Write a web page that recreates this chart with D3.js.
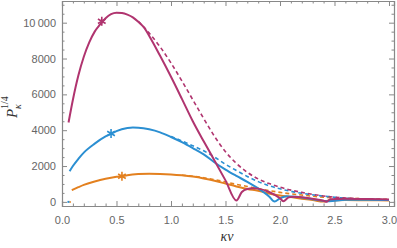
<!DOCTYPE html>
<html>
<head>
<meta charset="utf-8">
<script src="https://cdn.jsdelivr.net/npm/d3@7"></script>
<style>
  body { margin: 0; background: #fff; }
  .tick text { font-family: "Liberation Sans", Arial, sans-serif; font-size: 11px; fill: #666; }
</style>
</head>
<body>
<div class="chart"></div>
<script>
// kappa*nu sample points and P^(1/4) values
var magentaX = [0.06, 0.1, 0.15, 0.2, 0.25, 0.3, 0.35, 0.4, 0.45, 0.5, 0.55, 0.6, 0.65, 0.7, 0.75, 0.82, 0.9, 1.0, 1.1, 1.2, 1.3, 1.4, 1.5, 1.6, 1.65, 1.7, 1.75, 1.8, 1.9, 2.0, 2.03, 2.08, 2.12, 2.2, 2.3, 2.4, 2.43, 2.46, 2.6, 2.8, 3.0];
var magentaY = [4430, 5700, 7050, 8100, 8900, 9500, 9900, 10250, 10480, 10560, 10540, 10450, 10300, 10050, 9750, 9050, 8150, 6980, 5750, 4500, 3380, 2300, 1200, 80, 550, 720, 760, 740, 550, 200, 40, 250, 290, 260, 170, 60, 10, 150, 180, 160, 130];
var magentaDashX = [0.7, 0.8, 0.9, 1.0, 1.1, 1.2, 1.3, 1.4, 1.5, 1.6, 1.7, 1.8, 1.9, 2.0, 2.2, 2.4, 2.6, 2.8, 3.0];
var magentaDashY = [10080, 9420, 8650, 7750, 6750, 5700, 4650, 3650, 2800, 2150, 1650, 1280, 1020, 820, 530, 330, 220, 160, 120];

var blueX = [0.07, 0.1, 0.15, 0.2, 0.3, 0.4, 0.45, 0.5, 0.6, 0.65, 0.7, 0.8, 0.9, 1.0, 1.1, 1.2, 1.3, 1.4, 1.5, 1.6, 1.7, 1.8, 1.9, 1.95, 2.0, 2.06, 2.15, 2.3, 2.45, 2.6, 2.8, 3.0];
var blueY = [1710, 2000, 2400, 2750, 3250, 3650, 3800, 3950, 4120, 4150, 4140, 4050, 3880, 3620, 3330, 3000, 2650, 2200, 1800, 1450, 1120, 750, 300, 20, 200, 320, 280, 150, 40, 120, 120, 100];
var blueDashX = [1.0, 1.1, 1.2, 1.3, 1.4, 1.5, 1.6, 1.7, 1.8, 1.9, 2.0, 2.1, 2.2, 2.4, 2.6, 2.8, 3.0];
var blueDashY = [3650, 3400, 3130, 2850, 2500, 2100, 1750, 1420, 1130, 900, 730, 590, 480, 320, 210, 140, 100];

var orangeX = [0.09, 0.15, 0.2, 0.3, 0.4, 0.5, 0.55, 0.6, 0.7, 0.8, 0.9, 1.0, 1.1, 1.2, 1.3, 1.4, 1.5, 1.6, 1.7, 1.8, 1.9, 2.0, 2.1, 2.2, 2.3, 2.4, 2.45, 2.6, 2.8, 3.0];
var orangeY = [650, 820, 950, 1140, 1290, 1400, 1440, 1490, 1550, 1570, 1560, 1530, 1480, 1410, 1310, 1180, 1020, 860, 720, 620, 470, 360, 270, 180, 100, 20, 80, 100, 90, 80];
var orangeDashX = [1.1, 1.2, 1.3, 1.4, 1.5, 1.6, 1.7, 1.8, 1.9, 2.0, 2.2, 2.4, 2.6, 2.8, 3.0];
var orangeDashY = [1490, 1430, 1350, 1240, 1110, 980, 860, 740, 630, 530, 380, 260, 200, 170, 140];

// short bits sitting on zero near the left edge
var blueStubX = [0.05, 0.07], blueStubY = [0, 0];
var orangeStubX = [0.07, 0.08], orangeStubY = [0, 0];

// star markers
var starX = [0.365, 0.45, 0.55];
var starY = [10080, 3815, 1430];

var xTicks = [0, 0.5, 1, 1.5, 2, 2.5, 3];
var yTicks = [0, 2000, 4000, 6000, 8000, 10000];

var colMagenta = "#b0346f", colBlue = "#2b8fd2", colOrange = "#e3801f";

var svg_width = 397, svg_height = 248;
var plotLeft = 62, plotRight = 394, plotTop = 1, plotBottom = 206;

var svg = d3.select(".chart").append("svg")
    .attr("width", svg_width)
    .attr("height", svg_height);

var xScale = d3.scaleLinear().domain([0, 3.046]).range([plotLeft, plotRight]);
var yScale = d3.scaleLinear().domain([-230, 11210]).range([plotBottom, plotTop]);

function pairs(xs, ys) {
    return xs.map(function (x, i) { return [x, ys[i]]; });
}

// frame ticks, all four sides pointing in
var tickColor = "#888";
var xMinor = d3.range(0, 3.05, 0.1).filter(function (v) { return Math.abs(v * 2 - Math.round(v * 2)) > 1e-6; });
var yMinor = d3.range(0, 11001, 500).filter(function (v) { return v % 2000 !== 0; });

function grey(g) {
    g.select(".domain").attr("stroke", tickColor).attr("stroke-width", 1.2);
    g.selectAll("line").attr("stroke", tickColor);
}
function noDomain(g) {
    g.select(".domain").remove();
    g.selectAll("line").attr("stroke", tickColor);
}

svg.append("g")
    .attr("transform", "translate(0," + plotBottom + ")")
    .call(d3.axisBottom(xScale).tickValues(xTicks).tickSize(-5).tickPadding(10)
        .tickFormat(d3.format(".1f")))
    .call(grey);
svg.append("g")
    .attr("transform", "translate(0," + plotBottom + ")")
    .call(d3.axisBottom(xScale).tickValues(xMinor).tickSize(-2.5).tickFormat(""))
    .call(noDomain);
svg.append("g")
    .attr("transform", "translate(0," + plotTop + ")")
    .call(d3.axisTop(xScale).tickValues(xTicks).tickSize(-5).tickFormat(""))
    .call(grey);
svg.append("g")
    .attr("transform", "translate(0," + plotTop + ")")
    .call(d3.axisTop(xScale).tickValues(xMinor).tickSize(-2.5).tickFormat(""))
    .call(noDomain);

svg.append("g")
    .attr("transform", "translate(" + plotLeft + ",0)")
    .call(d3.axisLeft(yScale).tickValues(yTicks).tickSize(-5).tickPadding(6)
        .tickFormat(function (d) { return d >= 10000 ? "10\u2009000" : d; }))
    .call(grey);
svg.append("g")
    .attr("transform", "translate(" + plotLeft + ",0)")
    .call(d3.axisLeft(yScale).tickValues(yMinor).tickSize(-2.5).tickFormat(""))
    .call(noDomain);
svg.append("g")
    .attr("transform", "translate(" + plotRight + ",0)")
    .call(d3.axisRight(yScale).tickValues(yTicks).tickSize(-5).tickFormat(""))
    .call(grey);
svg.append("g")
    .attr("transform", "translate(" + plotRight + ",0)")
    .call(d3.axisRight(yScale).tickValues(yMinor).tickSize(-2.5).tickFormat(""))
    .call(noDomain);

var line = d3.line()
    .x(function (d) { return xScale(d[0]); })
    .y(function (d) { return yScale(d[1]); })
    .curve(d3.curveMonotoneX);

var series = [
    { pts: pairs(orangeDashX, orangeDashY), color: colOrange, dash: "4,3", w: 1.6 },
    { pts: pairs(blueDashX, blueDashY), color: colBlue, dash: "4,3", w: 1.6 },
    { pts: pairs(magentaDashX, magentaDashY), color: colMagenta, dash: "4,3", w: 1.6 },
    { pts: pairs(orangeX, orangeY), color: colOrange, dash: null, w: 2 },
    { pts: pairs(blueX, blueY), color: colBlue, dash: null, w: 2 },
    { pts: pairs(magentaX, magentaY), color: colMagenta, dash: null, w: 2 },
    { pts: pairs(blueStubX, blueStubY), color: colBlue, dash: null, w: 2 },
    { pts: pairs(orangeStubX, orangeStubY), color: colOrange, dash: null, w: 2 }
];

svg.append("g").selectAll("path")
    .data(series)
    .enter()
    .append("path")
    .attr("d", function (d) { return line(d.pts); })
    .attr("fill", "none")
    .attr("stroke", function (d) { return d.color; })
    .attr("stroke-width", function (d) { return d.w; })
    .attr("stroke-dasharray", function (d) { return d.dash; });

var starColors = [colMagenta, colBlue, colOrange];
svg.append("g").selectAll("path")
    .data(starX)
    .enter()
    .append("path")
    .attr("d", d3.symbol(d3.symbolAsterisk, 55))
    .attr("transform", function (d, i) { return "translate(" + xScale(d) + "," + yScale(starY[i]) + ")"; })
    .attr("fill", "none")
    .attr("stroke", function (d, i) { return starColors[i]; })
    .attr("stroke-width", 1.6);

// axis labels
var ylab = svg.append("text")
    .attr("transform", "translate(17,118) rotate(-90)")
    .attr("font-family", "'Liberation Serif', 'DejaVu Serif', serif")
    .attr("font-style", "italic")
    .attr("fill", "#333");
ylab.append("tspan").attr("font-size", 15).text("P");
ylab.append("tspan").attr("x", 9).attr("dy", 4).attr("font-size", 10).text("κ");
ylab.append("tspan").attr("x", 9).attr("dy", -13).attr("font-size", 10).attr("font-style", "normal").text("1/4");

svg.append("text")
    .attr("x", 227)
    .attr("y", 241)
    .attr("text-anchor", "middle")
    .attr("font-family", "'Liberation Serif', 'DejaVu Serif', serif")
    .attr("font-style", "italic")
    .attr("font-size", 14)
    .attr("fill", "#333")
    .text("κν");
</script>
</body>
</html>
